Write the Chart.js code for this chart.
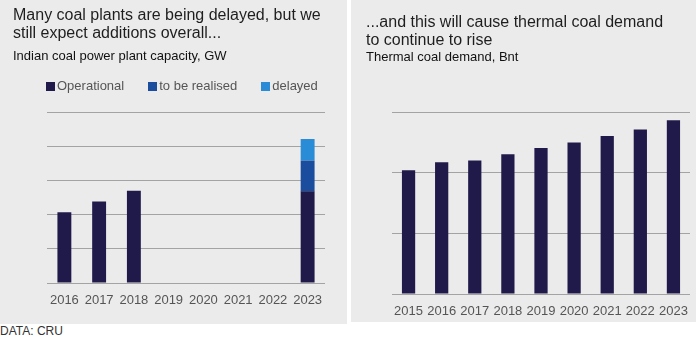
<!DOCTYPE html>
<html>
<head>
<meta charset="utf-8">
<script src="https://cdn.jsdelivr.net/npm/chart.js@4.4.1/dist/chart.umd.min.js"></script>
<style>
  html, body { margin: 0; padding: 0; background: #ffffff; }
  body { width: 698px; height: 341px; position: relative; overflow: hidden;
         font-family: "Liberation Sans", Arial, sans-serif; }
  .panel { position: absolute; background: #ebebeb; }
  .panel canvas { position: absolute; left: 0; top: 0; }
  .title { position: absolute; font-size: 16px; color: #1e1e1e; white-space: nowrap; }
  .sub { position: absolute; font-size: 13px; color: #111; white-space: nowrap; line-height: 15px; }
  .legend { position: absolute; display: flex; gap: 24px; font-size: 13px; line-height: 15px; color: #555; }
  .legend span.item { display: flex; align-items: flex-end; }
  .legend span.box { display: inline-block; width: 9px; height: 9px; margin-right: 2px; margin-bottom: 2px; }
  .source { position: absolute; left: 0; top: 324px; font-size: 12px; line-height: 14px; color: #333; }
</style>
</head>
<body>

<div class="panel" id="left" style="left:0;top:0;width:347px;height:324px;">
  <canvas id="capacity" width="347" height="324"></canvas>
  <div class="title" style="left:13px;top:5.5px;line-height:18px;">Many coal plants are being delayed, but we<br>still expect additions overall...</div>
  <div class="sub" style="left:13px;top:48px;">Indian coal power plant capacity, GW</div>
  <div class="legend" id="capLegend" style="left:46px;top:78px;"></div>
</div>

<div class="panel" id="right" style="left:351px;top:0;width:345px;height:322px;">
  <canvas id="demand" width="345" height="322"></canvas>
  <div class="title" style="left:15px;top:13px;line-height:17.7px;">...and this will cause thermal coal demand<br>to continue to rise</div>
  <div class="sub" style="left:15px;top:48.7px;">Thermal coal demand, Bnt</div>
</div>

<div class="source">DATA: CRU</div>

<script>
// Indian coal power plant capacity, GW
const capacityYears = ['2016', '2017', '2018', '2019', '2020', '2021', '2022', '2023'];
const operational   = [103.5, 119, 135, null, null, null, null, 134];
const toBeRealised  = [null, null, null, null, null, null, null, 45];
const delayed       = [null, null, null, null, null, null, null, 31.5];

// Thermal coal demand, Bnt
const demandYears = ['2015', '2016', '2017', '2018', '2019', '2020', '2021', '2022', '2023'];
const coalDemand  = [0.612, 0.652, 0.660, 0.691, 0.722, 0.749, 0.781, 0.813, 0.859];

const NAVY = '#201a4a';
const MID_BLUE = '#1b4d9e';
const LIGHT_BLUE = '#2a8bd6';
const GRID = '#a3a3a3';
const TICK_FONT = { family: '"Liberation Sans", Arial, sans-serif', size: 13 };

const capacitySeries = [
  { label: 'Operational', data: operational, color: NAVY },
  { label: 'to be realised', data: toBeRealised, color: MID_BLUE },
  { label: 'delayed', data: delayed, color: LIGHT_BLUE }
];

// Legend for the capacity chart, built from the series list
const legendEl = document.getElementById('capLegend');
capacitySeries.forEach(s => {
  const item = document.createElement('span');
  item.className = 'item';
  const box = document.createElement('span');
  box.className = 'box';
  box.style.background = s.color;
  item.appendChild(box);
  item.appendChild(document.createTextNode(s.label));
  legendEl.appendChild(item);
});

function axes(yMax, yStep, plotLeft, xAxisHeight, tickPad) {
  return {
    x: {
      stacked: true,
      grid: { display: false },
      border: { display: false },
      ticks: { color: '#555555', font: TICK_FONT, padding: tickPad, maxRotation: 0, autoSkip: false },
      afterFit: s => { s.height = xAxisHeight; }
    },
    y: {
      stacked: true,
      min: 0,
      max: yMax,
      ticks: { display: false, stepSize: yStep },
      grid: { color: GRID, lineWidth: 1, drawTicks: false },
      border: { display: false },
      afterFit: s => { s.width = plotLeft; }
    }
  };
}

new Chart(document.getElementById('capacity'), {
  type: 'bar',
  data: {
    labels: capacityYears,
    datasets: capacitySeries.map(s => ({
      label: s.label,
      data: s.data,
      backgroundColor: s.color,
      borderWidth: 0,
      categoryPercentage: 1,
      barPercentage: 0.4
    }))
  },
  options: {
    responsive: false,
    animation: false,
    layout: { padding: { top: 112, right: 22, left: 0, bottom: 0 } },
    plugins: { legend: { display: false }, tooltip: { enabled: false } },
    scales: axes(250, 50, 47, 41, 2)
  }
});

new Chart(document.getElementById('demand'), {
  type: 'bar',
  data: {
    labels: demandYears,
    datasets: [{
      label: 'Thermal coal demand',
      data: coalDemand,
      backgroundColor: NAVY,
      borderWidth: 0,
      categoryPercentage: 1,
      barPercentage: 0.4
    }]
  },
  options: {
    responsive: false,
    animation: false,
    layout: { padding: { top: 112, right: 6, left: 0, bottom: 0 } },
    plugins: { legend: { display: false }, tooltip: { enabled: false } },
    scales: axes(0.9, 0.3, 41, 28, 1.5)
  }
});
</script>
</body>
</html>
